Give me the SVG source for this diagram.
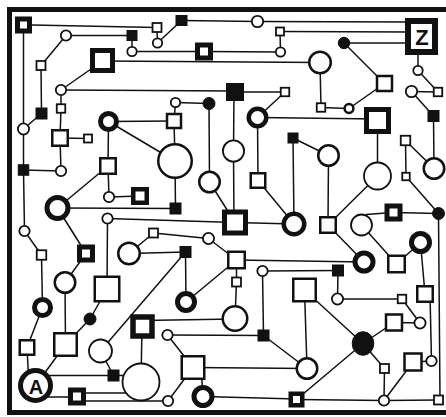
<svg xmlns="http://www.w3.org/2000/svg" width="446" height="417" viewBox="0 0 446 417">
<style>
.bg{fill:#fff}
.fr{fill:none;stroke:#111;stroke-width:5}
#edges line{stroke:#111;stroke-width:1.5;fill:none}
.s{fill:#fff;stroke:#111;stroke-width:1.8}
.m{fill:#fff;stroke:#111;stroke-width:2.5}
.t{fill:#fff;stroke:#111;stroke-width:5}
.k{fill:#111;stroke:#111;stroke-width:1}
.lbl{font-family:"Liberation Sans",Arial,sans-serif;font-weight:bold;fill:#111;text-anchor:middle}
</style>
<rect class="bg" x="0" y="0" width="446" height="417"/>
<rect class="fr" x="9.5" y="9.5" width="445" height="403"/>
<g id="edges">
<line x1="32" y1="25" x2="157" y2="27.5"/>
<line x1="23.5" y1="25" x2="23.5" y2="129"/>
<line x1="23.5" y1="129" x2="23.5" y2="170"/>
<line x1="23.5" y1="170" x2="24.5" y2="231"/>
<line x1="23.5" y1="129" x2="41.5" y2="113.5"/>
<line x1="41" y1="65.5" x2="41.5" y2="113.5"/>
<line x1="41" y1="65.5" x2="66" y2="35.5"/>
<line x1="66" y1="35.5" x2="132" y2="35.5"/>
<line x1="132" y1="35.5" x2="132" y2="51.5"/>
<line x1="132" y1="51.5" x2="204" y2="51.5"/>
<line x1="204" y1="51.5" x2="280.5" y2="52"/>
<line x1="280" y1="31.5" x2="280.5" y2="52"/>
<line x1="280" y1="31.5" x2="410" y2="32"/>
<line x1="157" y1="27.5" x2="157.5" y2="43"/>
<line x1="157.5" y1="43" x2="181.5" y2="20.5"/>
<line x1="181.5" y1="20.5" x2="257.5" y2="21.5"/>
<line x1="257.5" y1="21.5" x2="410" y2="22"/>
<line x1="344" y1="43" x2="410" y2="43"/>
<line x1="344" y1="43" x2="384.5" y2="83.5"/>
<line x1="384.5" y1="83.5" x2="349" y2="108.5"/>
<line x1="349" y1="108.5" x2="321" y2="107.5"/>
<line x1="321" y1="107.5" x2="320" y2="62.5"/>
<line x1="102.5" y1="61" x2="320" y2="62.5"/>
<line x1="102.5" y1="61" x2="61" y2="90"/>
<line x1="61" y1="90" x2="61" y2="108.5"/>
<line x1="61" y1="90" x2="235" y2="91"/>
<line x1="235" y1="92" x2="285" y2="92"/>
<line x1="285" y1="92" x2="257.5" y2="117.5"/>
<line x1="61" y1="108.5" x2="60" y2="138"/>
<line x1="60" y1="138" x2="88" y2="138.5"/>
<line x1="60" y1="138" x2="61" y2="171"/>
<line x1="61" y1="171" x2="23.5" y2="170"/>
<line x1="108.5" y1="121.5" x2="174" y2="121"/>
<line x1="108.5" y1="121.5" x2="175" y2="161"/>
<line x1="108.5" y1="121.5" x2="108" y2="166"/>
<line x1="108" y1="166" x2="109" y2="197"/>
<line x1="109" y1="197" x2="140" y2="196"/>
<line x1="108" y1="166" x2="57.5" y2="208"/>
<line x1="57.5" y1="208" x2="175.5" y2="208.5"/>
<line x1="57.5" y1="208" x2="86" y2="253.5"/>
<line x1="86" y1="253.5" x2="65" y2="282.5"/>
<line x1="65" y1="282.5" x2="65.5" y2="344.5"/>
<line x1="24.5" y1="231" x2="41.5" y2="255"/>
<line x1="41.5" y1="255" x2="42.5" y2="307.5"/>
<line x1="42.5" y1="307.5" x2="27" y2="347.5"/>
<line x1="27" y1="347.5" x2="29" y2="386"/>
<line x1="65.5" y1="344.5" x2="35.5" y2="385.5"/>
<line x1="65.5" y1="344.5" x2="90" y2="319"/>
<line x1="90" y1="319" x2="107" y2="289"/>
<line x1="107" y1="289" x2="107.5" y2="218.5"/>
<line x1="107.5" y1="218.5" x2="235" y2="222.5"/>
<line x1="175.5" y1="102.5" x2="209" y2="103.5"/>
<line x1="175.5" y1="102.5" x2="174" y2="121"/>
<line x1="174" y1="121" x2="175" y2="161"/>
<line x1="175" y1="161" x2="175.5" y2="208.5"/>
<line x1="209" y1="103.5" x2="209.5" y2="182"/>
<line x1="209.5" y1="182" x2="235" y2="222.5"/>
<line x1="234" y1="92" x2="233.5" y2="151"/>
<line x1="233.5" y1="151" x2="234" y2="222"/>
<line x1="257.5" y1="117.5" x2="377.5" y2="119"/>
<line x1="257.5" y1="117.5" x2="258" y2="180.5"/>
<line x1="258" y1="180.5" x2="294" y2="224"/>
<line x1="293" y1="138" x2="294" y2="224"/>
<line x1="293" y1="138" x2="328.5" y2="155.5"/>
<line x1="328.5" y1="155.5" x2="328" y2="225"/>
<line x1="377.5" y1="120.5" x2="377.5" y2="176"/>
<line x1="377.5" y1="176" x2="328" y2="225"/>
<line x1="328" y1="225" x2="364" y2="262"/>
<line x1="235" y1="222.5" x2="294" y2="224"/>
<line x1="418" y1="37" x2="418" y2="70.5"/>
<line x1="418" y1="70.5" x2="438" y2="92"/>
<line x1="411.5" y1="91.5" x2="438" y2="92"/>
<line x1="411.5" y1="91.5" x2="433.5" y2="116"/>
<line x1="433.5" y1="116" x2="434" y2="168.5"/>
<line x1="405.5" y1="140.5" x2="434" y2="168.5"/>
<line x1="405.5" y1="140.5" x2="406" y2="176.5"/>
<line x1="406" y1="176.5" x2="438.5" y2="213.5"/>
<line x1="438.5" y1="213.5" x2="393.5" y2="212.5"/>
<line x1="386" y1="213" x2="366" y2="214.5"/>
<line x1="361.5" y1="225" x2="396.5" y2="264"/>
<line x1="396.5" y1="264" x2="420.5" y2="242.5"/>
<line x1="420.5" y1="242.5" x2="425" y2="294"/>
<line x1="430" y1="294" x2="431.5" y2="361"/>
<line x1="431.5" y1="361" x2="413" y2="362"/>
<line x1="413" y1="362" x2="384" y2="400.5"/>
<line x1="438.5" y1="213.5" x2="440" y2="400"/>
<line x1="438.5" y1="400" x2="384" y2="400.5"/>
<line x1="384" y1="400.5" x2="296.5" y2="399.5"/>
<line x1="384" y1="400.5" x2="384.5" y2="368.5"/>
<line x1="384.5" y1="368.5" x2="363" y2="343.5"/>
<line x1="363" y1="343.5" x2="296.5" y2="399.5"/>
<line x1="363" y1="343.5" x2="394" y2="322.5"/>
<line x1="394" y1="322.5" x2="420" y2="323"/>
<line x1="420" y1="323" x2="402" y2="299"/>
<line x1="402" y1="299" x2="337.5" y2="299"/>
<line x1="337.5" y1="299" x2="338" y2="270.5"/>
<line x1="338" y1="270.5" x2="262.5" y2="271"/>
<line x1="262.5" y1="271" x2="263.5" y2="335.5"/>
<line x1="263.5" y1="335.5" x2="167.5" y2="335"/>
<line x1="263.5" y1="335.5" x2="307" y2="368.5"/>
<line x1="167.5" y1="335" x2="193" y2="367.5"/>
<line x1="193" y1="367.5" x2="307" y2="368.5"/>
<line x1="193" y1="367.5" x2="168" y2="401"/>
<line x1="201" y1="367.5" x2="203" y2="396.5"/>
<line x1="203" y1="396.5" x2="296.5" y2="399"/>
<line x1="304.5" y1="290" x2="307" y2="368.5"/>
<line x1="304.5" y1="290" x2="363" y2="343.5"/>
<line x1="236.5" y1="260" x2="364" y2="262"/>
<line x1="208.5" y1="238.5" x2="236.5" y2="260"/>
<line x1="153.5" y1="233" x2="208.5" y2="238.5"/>
<line x1="129" y1="253.5" x2="153.5" y2="233"/>
<line x1="129" y1="253.5" x2="185.5" y2="252"/>
<line x1="185.5" y1="252" x2="186" y2="302"/>
<line x1="185.5" y1="252" x2="100.5" y2="351"/>
<line x1="236.5" y1="260" x2="186" y2="302"/>
<line x1="236.5" y1="260" x2="236.5" y2="282"/>
<line x1="236.5" y1="282" x2="235" y2="318.5"/>
<line x1="142" y1="320.5" x2="235" y2="319"/>
<line x1="142" y1="326" x2="141" y2="382"/>
<line x1="100.5" y1="351" x2="113.5" y2="375.5"/>
<line x1="45" y1="375.5" x2="126" y2="375.5"/>
<line x1="45" y1="397" x2="77" y2="397"/>
<line x1="77" y1="393" x2="126" y2="393"/>
<line x1="77" y1="401" x2="168" y2="401"/>
</g>
<g id="n_tl"><rect class="t" x="17.5" y="19" width="12" height="12"/></g>
<g id="n_z"><rect class="t" x="408" y="21" width="27" height="31" style="stroke-width:6"/><text class="lbl" x="422" y="45" font-size="22">Z</text></g>
<g id="n_a"><circle class="t" cx="35.5" cy="385.5" r="15"/><text class="lbl" x="36" y="393.5" font-size="20">A</text></g>
<g id="s3"><rect class="s" x="152.5" y="23" width="9" height="9"/></g>
<g id="b4"><rect class="k" x="176" y="15.5" width="11" height="10"/></g>
<g id="b5"><rect class="k" x="127" y="30.5" width="10" height="10"/></g>
<g id="t6"><rect class="t" x="197.5" y="45" width="13" height="13"/></g>
<g id="s7"><rect class="s" x="276" y="27.5" width="8" height="8"/></g>
<g id="t8"><rect class="t" x="92.5" y="50.5" width="20" height="20"/></g>
<g id="s9"><rect class="s" x="36.5" y="61" width="9" height="9"/></g>
<g id="b10"><rect class="k" x="226.5" y="83.5" width="17" height="17"/></g>
<g id="s11"><rect class="s" x="280.75" y="87.75" width="8.5" height="8.5"/></g>
<g id="s12"><rect class="m" x="377" y="76" width="15" height="15"/></g>
<g id="s13"><rect class="s" x="433.75" y="87.75" width="8.5" height="8.5"/></g>
<g id="b14"><rect class="k" x="36" y="108" width="11" height="11"/></g>
<g id="s15"><rect class="s" x="56.75" y="104.25" width="8.5" height="8.5"/></g>
<g id="s16"><rect class="m" x="52.25" y="130.25" width="15.5" height="15.5"/></g>
<g id="s17"><rect class="s" x="84" y="134.5" width="8" height="8"/></g>
<g id="b18"><rect class="k" x="18.25" y="164.75" width="10.5" height="10.5"/></g>
<g id="s19"><rect class="m" x="100.25" y="158.25" width="15.5" height="15.5"/></g>
<g id="t20"><rect class="t" x="133.25" y="189.25" width="13.5" height="13.5" style="stroke-width:4.5"/></g>
<g id="s21"><rect class="m" x="167" y="114" width="14" height="14"/></g>
<g id="b22"><rect class="k" x="288" y="133" width="10" height="10"/></g>
<g id="s23"><rect class="m" x="250.75" y="173.25" width="14.5" height="14.5"/></g>
<g id="b24"><rect class="k" x="170" y="203" width="11" height="11"/></g>
<g id="s25"><rect class="s" x="316.75" y="103.25" width="8.5" height="8.5"/></g>
<g id="t26"><rect class="t" x="366.5" y="109.5" width="22" height="22"/></g>
<g id="b27"><rect class="k" x="428" y="110.5" width="11" height="11"/></g>
<g id="s28"><rect class="s" x="400.75" y="135.75" width="9.5" height="9.5"/></g>
<g id="s29"><rect class="s" x="402.25" y="172.75" width="7.5" height="7.5"/></g>
<g id="t30"><rect class="t" x="224.5" y="212" width="21" height="21"/></g>
<g id="t31"><rect class="t" x="79.5" y="247" width="13" height="13"/></g>
<g id="s32"><rect class="s" x="36.75" y="250.25" width="9.5" height="9.5"/></g>
<g id="s33"><rect class="m" x="94.75" y="276.75" width="24.5" height="24.5"/></g>
<g id="s34"><rect class="s" x="149" y="228.5" width="9" height="9"/></g>
<g id="b35"><rect class="k" x="180" y="246.5" width="11" height="11"/></g>
<g id="s36"><rect class="m" x="228.25" y="251.75" width="16.5" height="16.5"/></g>
<g id="s37"><rect class="s" x="232" y="277.5" width="9" height="9"/></g>
<g id="s38"><rect class="m" x="320.25" y="217.25" width="15.5" height="15.5"/></g>
<g id="t39"><rect class="t" x="387" y="206" width="13" height="13"/></g>
<g id="s40"><rect class="m" x="388.25" y="255.75" width="16.5" height="16.5"/></g>
<g id="b41"><rect class="k" x="332.5" y="265" width="11" height="11"/></g>
<g id="s42"><rect class="m" x="293.25" y="278.75" width="22.5" height="22.5"/></g>
<g id="s43"><rect class="m" x="417.25" y="286.25" width="15.5" height="15.5"/></g>
<g id="s44"><rect class="s" x="397.75" y="294.75" width="8.5" height="8.5"/></g>
<g id="s45"><rect class="m" x="19.75" y="340.25" width="14.5" height="14.5"/></g>
<g id="s46"><rect class="m" x="54.25" y="333.25" width="22.5" height="22.5"/></g>
<g id="t47"><rect class="t" x="133" y="317" width="19" height="19" style="stroke-width:5.5"/></g>
<g id="b48"><rect class="k" x="108" y="370" width="11" height="11"/></g>
<g id="t49"><rect class="t" x="70.5" y="390" width="13" height="13"/></g>
<g id="b50"><rect class="k" x="258" y="330" width="11" height="11"/></g>
<g id="s51"><rect class="m" x="181.75" y="356.25" width="22.5" height="22.5"/></g>
<g id="t52"><rect class="t" x="290.75" y="393.75" width="11.5" height="11.5" style="stroke-width:4.5"/></g>
<g id="s53"><rect class="m" x="386" y="314.5" width="16" height="16"/></g>
<g id="s54"><rect class="m" x="404.5" y="353.5" width="17" height="17"/></g>
<g id="s55"><rect class="s" x="380" y="364" width="9" height="9"/></g>
<g id="s56"><rect class="s" x="434" y="395.5" width="9" height="9"/></g>
<g id="c1"><circle class="s" cx="66" cy="35.5" r="5.2"/></g>
<g id="c2"><circle class="s" cx="132" cy="51.5" r="4.7"/></g>
<g id="c3"><circle class="s" cx="61" cy="90" r="5.2"/></g>
<g id="c4"><circle class="s" cx="157.5" cy="43" r="4.7"/></g>
<g id="c5"><circle class="s" cx="257.5" cy="21.5" r="5.7"/></g>
<g id="c6"><circle class="s" cx="280.5" cy="52" r="4.7"/></g>
<g id="c7"><circle class="s" cx="175.5" cy="102.5" r="4.7"/></g>
<g id="c8"><circle class="k" cx="209" cy="103.5" r="6"/></g>
<g id="c9"><circle class="k" cx="344" cy="43" r="5.7"/></g>
<g id="c10"><circle class="m" cx="320" cy="62.5" r="10.8"/></g>
<g id="c11"><circle class="s" cx="418" cy="70.5" r="4.7"/></g>
<g id="c12"><circle class="s" cx="411.5" cy="91.5" r="5.7"/></g>
<g id="c13"><circle class="m" cx="349" cy="108.5" r="4.4"/></g>
<g id="c14"><circle class="s" cx="23.5" cy="129" r="5.6"/></g>
<g id="c15"><circle class="t" cx="108.5" cy="121.5" r="8"/></g>
<g id="c16"><circle class="s" cx="61" cy="171" r="5.2"/></g>
<g id="c17"><circle class="s" cx="109" cy="197" r="5.2"/></g>
<g id="c18"><circle class="m" cx="175" cy="161" r="16.75"/></g>
<g id="c19"><circle class="m" cx="209.5" cy="182" r="10.25"/></g>
<g id="c20"><circle class="s" cx="233.5" cy="151" r="10.6"/></g>
<g id="c21"><circle class="t" cx="257.5" cy="117.5" r="8.75" style="stroke-width:4.5"/></g>
<g id="c22"><circle class="m" cx="328.5" cy="155.5" r="10.25"/></g>
<g id="c23"><circle class="s" cx="377.5" cy="176" r="13.5"/></g>
<g id="c24"><circle class="m" cx="434" cy="168.5" r="10.25"/></g>
<g id="c25"><circle class="t" cx="57.5" cy="208" r="10.5"/></g>
<g id="c26"><circle class="s" cx="24.5" cy="231" r="5.2"/></g>
<g id="c27"><circle class="s" cx="107.5" cy="218.5" r="5.2"/></g>
<g id="c28"><circle class="m" cx="129" cy="253.5" r="10.75"/></g>
<g id="c29"><circle class="m" cx="65" cy="282.5" r="10.25"/></g>
<g id="c30"><circle class="t" cx="42.5" cy="307.5" r="8"/></g>
<g id="c31"><circle class="s" cx="208.5" cy="238.5" r="5.6"/></g>
<g id="c32"><circle class="t" cx="186" cy="302" r="8.5"/></g>
<g id="c33"><circle class="t" cx="294" cy="224" r="10.25" style="stroke-width:4.5"/></g>
<g id="c34"><circle class="s" cx="262.5" cy="271" r="5.2"/></g>
<g id="c35"><circle class="s" cx="361.5" cy="225" r="10.5"/></g>
<g id="c36"><circle class="t" cx="364" cy="262" r="9"/></g>
<g id="c37"><circle class="t" cx="420.5" cy="242.5" r="9"/></g>
<g id="c38"><circle class="k" cx="438.5" cy="213.5" r="6"/></g>
<g id="c39"><circle class="s" cx="337.5" cy="299" r="5.6"/></g>
<g id="c41"><circle class="k" cx="90" cy="319" r="6"/></g>
<g id="c42"><circle class="s" cx="100.5" cy="351" r="11.5"/></g>
<g id="c43"><circle class="s" cx="141" cy="382" r="18.5"/></g>
<g id="c44"><circle class="m" cx="235" cy="318.5" r="12.25"/></g>
<g id="c45"><circle class="s" cx="167.5" cy="335" r="5.2"/></g>
<g id="c46"><circle class="s" cx="168" cy="401" r="5.2"/></g>
<g id="c47"><circle class="t" cx="203" cy="396.5" r="9"/></g>
<g id="c48"><circle class="m" cx="307" cy="368.5" r="10.25"/></g>
<g id="c49"><ellipse class="k" cx="363" cy="343.5" rx="10.8" ry="11.8"/></g>
<g id="c50"><circle class="s" cx="420" cy="323" r="5.6"/></g>
<g id="c51"><circle class="s" cx="431.5" cy="361" r="5.2"/></g>
<g id="c52"><circle class="s" cx="384" cy="400.5" r="5.2"/></g>
</svg>
